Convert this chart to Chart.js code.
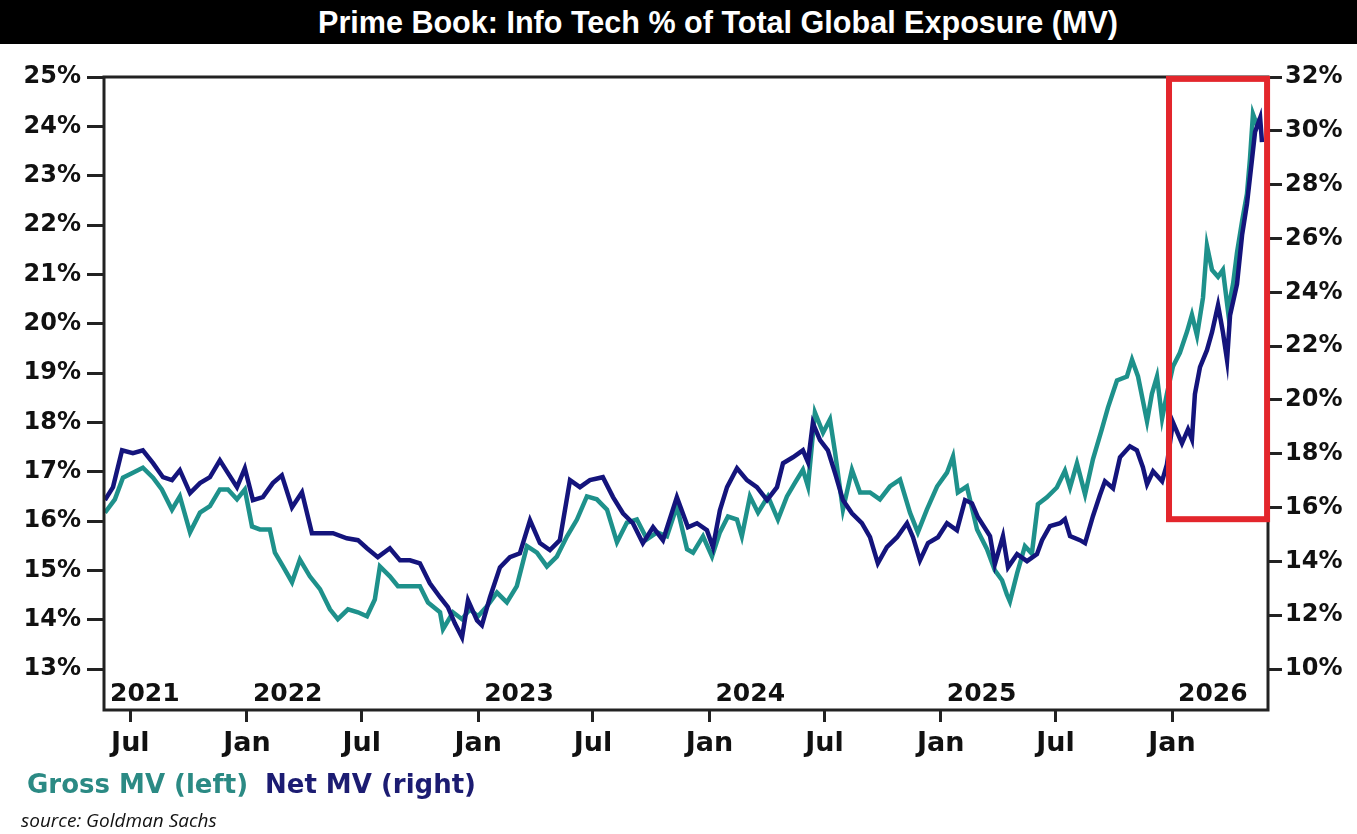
<!DOCTYPE html>
<html>
<head>
<meta charset="utf-8">
<script src="https://cdn.jsdelivr.net/npm/chart.js@4.4.1/dist/chart.umd.min.js"></script>
<style>
  html, body { margin: 0; padding: 0; background: #fff; }
  body { width: 1357px; height: 834px; position: relative; overflow: hidden; }
  #chart { position: absolute; left: 0; top: 0; }
  #title { position: absolute; left: 0; top: 0; width: 1357px; height: 44px; background: #000; z-index: 2; }
  #titleText { position: absolute; left: 318px; top: 6px; font: bold 32px "Liberation Sans", Arial, sans-serif; line-height: 32px; color: #fff; white-space: nowrap; transform-origin: left top; }
  .legend { position: absolute; top: 771px; font: bold 26px "DejaVu Sans", sans-serif; line-height: 26px; white-space: nowrap; }
  #source { position: absolute; left: 21px; top: 811px; font: italic 19px "Open Sans", sans-serif; line-height: 19px; color: #111; white-space: nowrap; }
</style>
</head>
<body>
<div id="title"><span id="titleText">Prime Book: Info Tech % of Total Global Exposure (MV)</span></div>
<canvas id="chart" width="1357" height="834"></canvas>
<span class="legend" style="left:27px;color:#2b8a84">Gross MV (left)</span>
<span class="legend" style="left:265px;color:#1c1c72">Net MV (right)</span>
<div id="source">source: Goldman Sachs</div>
<script>
// squeeze the title into the width it has in the picture
var titleSpan = document.getElementById('titleText');
titleSpan.style.transform = 'scaleX(' + (800 / titleSpan.getBoundingClientRect().width) + ')';

// dates are decimal years
var grossDates = [
  2021.386, 2021.429, 2021.464, 2021.507, 2021.55, 2021.594, 2021.632, 2021.676, 2021.71, 2021.754,
  2021.797, 2021.84, 2021.883, 2021.918, 2021.957, 2021.991, 2022.022, 2022.056, 2022.099, 2022.121,
  2022.156, 2022.195, 2022.229, 2022.272, 2022.316, 2022.359, 2022.393, 2022.437, 2022.48, 2022.519,
  2022.553, 2022.575, 2022.618, 2022.653, 2022.705, 2022.748, 2022.783, 2022.835, 2022.848, 2022.891,
  2022.93, 2022.964, 2022.999, 2023.038, 2023.081, 2023.124, 2023.167, 2023.211, 2023.254, 2023.297,
  2023.34, 2023.384, 2023.427, 2023.47, 2023.513, 2023.557, 2023.6, 2023.643, 2023.686, 2023.73,
  2023.773, 2023.816, 2023.859, 2023.903, 2023.929, 2023.972, 2024.011, 2024.045, 2024.08, 2024.119,
  2024.14, 2024.175, 2024.21, 2024.253, 2024.296, 2024.335, 2024.37, 2024.404, 2024.426, 2024.456,
  2024.491, 2024.521, 2024.543, 2024.577, 2024.616, 2024.651, 2024.694, 2024.737, 2024.78, 2024.824,
  2024.867, 2024.901, 2024.94, 2024.984, 2025.027, 2025.053, 2025.074, 2025.113, 2025.157, 2025.2,
  2025.234, 2025.265, 2025.286, 2025.299, 2025.33, 2025.364, 2025.394, 2025.42, 2025.459, 2025.502,
  2025.537, 2025.559, 2025.589, 2025.624, 2025.658, 2025.697, 2025.723, 2025.762, 2025.805, 2025.827,
  2025.853, 2025.892, 2025.913, 2025.935, 2025.957, 2025.978, 2026.004, 2026.034, 2026.065, 2026.086,
  2026.108, 2026.134, 2026.151, 2026.173, 2026.199, 2026.22, 2026.242, 2026.264, 2026.281, 2026.303,
  2026.324, 2026.337, 2026.35, 2026.367, 2026.381
];
var grossValues = [
  16.17, 16.44, 16.88, 16.98, 17.08, 16.88, 16.64, 16.23, 16.5, 15.77,
  16.17, 16.3, 16.64, 16.64, 16.44, 16.64, 15.89, 15.83, 15.83, 15.36,
  15.08, 14.76, 15.22, 14.88, 14.62, 14.21, 14.01, 14.21, 14.15, 14.07,
  14.41, 15.08, 14.88, 14.68, 14.68, 14.68, 14.35, 14.15, 13.81, 14.15,
  14.01, 14.21, 14.07, 14.27, 14.55, 14.35, 14.68, 15.49, 15.36, 15.08,
  15.28, 15.69, 16.03, 16.5, 16.44, 16.23, 15.57, 15.97, 16.03, 15.63,
  15.77, 15.69, 16.3, 15.43, 15.36, 15.69, 15.28, 15.77, 16.09, 16.03,
  15.69, 16.5, 16.17, 16.5, 16.03, 16.5, 16.78, 17.04, 16.7, 18.2,
  17.79, 18.06, 17.39, 16.23, 17.04, 16.58, 16.58, 16.44, 16.7, 16.84,
  16.17, 15.77, 16.23, 16.7, 16.98, 17.31, 16.58, 16.7, 15.83, 15.43,
  15.0, 14.8, 14.51, 14.37, 14.94, 15.49, 15.34, 16.34, 16.48, 16.68,
  17.02, 16.68, 17.17, 16.54, 17.25, 17.87, 18.3, 18.85, 18.93, 19.27,
  18.93, 18.02, 18.58, 18.93, 18.08, 18.58, 19.13, 19.41, 19.84, 20.18,
  19.76, 20.53, 21.58, 21.09, 20.95, 21.09, 20.26, 20.81, 21.44, 22.08,
  22.63, 23.34, 24.25, 24.03, 24.17
];

var netDates = [
  2021.386, 2021.421, 2021.46, 2021.507, 2021.55, 2021.594, 2021.637, 2021.676, 2021.71, 2021.754,
  2021.797, 2021.84, 2021.883, 2021.918, 2021.957, 2021.991, 2022.026, 2022.069, 2022.112, 2022.151,
  2022.195, 2022.238, 2022.281, 2022.329, 2022.372, 2022.432, 2022.48, 2022.519, 2022.566, 2022.618,
  2022.662, 2022.705, 2022.748, 2022.791, 2022.835, 2022.869, 2022.899, 2022.93, 2022.956, 2022.995,
  2023.016, 2023.051, 2023.094, 2023.137, 2023.18, 2023.224, 2023.267, 2023.31, 2023.353, 2023.397,
  2023.44, 2023.483, 2023.539, 2023.583, 2023.626, 2023.669, 2023.712, 2023.756, 2023.799, 2023.859,
  2023.907, 2023.946, 2023.989, 2024.015, 2024.045, 2024.076, 2024.119, 2024.162, 2024.205, 2024.249,
  2024.292, 2024.318, 2024.361, 2024.404, 2024.426, 2024.447, 2024.478, 2024.512, 2024.543, 2024.577,
  2024.616, 2024.659, 2024.694, 2024.728, 2024.767, 2024.811, 2024.854, 2024.88, 2024.91, 2024.945,
  2024.988, 2025.027, 2025.07, 2025.105, 2025.135, 2025.161, 2025.213, 2025.234, 2025.269, 2025.291,
  2025.33, 2025.373, 2025.416, 2025.438, 2025.472, 2025.516, 2025.537, 2025.559, 2025.602, 2025.624,
  2025.658, 2025.688, 2025.71, 2025.745, 2025.775, 2025.818, 2025.848, 2025.874, 2025.892, 2025.918,
  2025.957, 2025.978, 2026.004, 2026.043, 2026.069, 2026.086, 2026.099, 2026.121, 2026.151, 2026.173,
  2026.199, 2026.22, 2026.238, 2026.251, 2026.281, 2026.303, 2026.324, 2026.346, 2026.359, 2026.381,
  2026.389
];
var netValues = [
  16.28, 16.76, 18.13, 18.02, 18.13, 17.65, 17.13, 17.02, 17.39, 16.54,
  16.91, 17.13, 17.76, 17.28, 16.76, 17.46, 16.28, 16.39, 16.91, 17.2,
  16.01, 16.57, 15.05, 15.05, 15.05, 14.86, 14.79, 14.49, 14.16, 14.49,
  14.04, 14.04, 13.93, 13.19, 12.67, 12.3, 11.7, 11.18, 12.56, 11.81,
  11.63, 12.67, 13.78, 14.16, 14.3, 15.53, 14.68, 14.42, 14.79, 17.02,
  16.76, 17.02, 17.13, 16.39, 15.79, 15.42, 14.68, 15.27, 14.79, 16.39,
  15.27, 15.42, 15.16, 14.53, 15.9, 16.76, 17.46, 17.02, 16.76, 16.28,
  16.76, 17.65, 17.87, 18.13, 17.69, 19.14, 18.51, 18.13, 17.28, 16.28,
  15.79, 15.42, 14.9, 13.93, 14.53, 14.9, 15.42, 14.9, 14.04, 14.68,
  14.9, 15.42, 15.16, 16.28, 16.16, 15.64, 14.94, 13.9, 14.94, 13.78,
  14.27, 14.01, 14.27, 14.79, 15.31, 15.42, 15.57, 14.94, 14.79, 14.68,
  15.68, 16.46, 16.98, 16.72, 17.87, 18.28, 18.13, 17.5, 16.87, 17.35,
  16.98, 17.61, 19.17, 18.39, 18.91, 18.54, 20.22, 21.22, 21.85, 22.52,
  23.52, 22.52, 21.48, 23.15, 24.3, 26.13, 27.28, 28.95, 29.96, 30.48,
  29.58
];

// axis ticks
var xTickValues = [2021.496, 2022, 2022.496, 2023, 2023.496, 2024, 2024.497, 2025, 2025.496, 2026];
var xTickLabels = ['Jul', 'Jan', 'Jul', 'Jan', 'Jul', 'Jan', 'Jul', 'Jan', 'Jul', 'Jan'];
var yearLabels = ['2021', '2022', '2023', '2024', '2025', '2026'];
var yearStarts = [2021, 2022, 2023, 2024, 2025, 2026];
var leftTicks = [13, 14, 15, 16, 17, 18, 19, 20, 21, 22, 23, 24, 25];
var rightTicks = [10, 12, 14, 16, 18, 20, 22, 24, 26, 28, 30, 32];

// red highlight box, in x years and right-axis percent
var redBox = { from: 2025.987, to: 2026.411, top: 31.93, bottom: 15.57 };

function toPoints(dates, values) {
    return dates.map(function (d, i) { return { x: d, y: values[i] }; });
}

var tickFont = { family: 'DejaVu Sans', weight: 'bold', size: 24 };

var extras = {
    id: 'extras',
    afterDatasetsDraw: function (chart) {
        var ctx = chart.ctx, a = chart.chartArea, x = chart.scales.x, yR = chart.scales.yR;
        ctx.save();
        // year labels inside the plot
        ctx.font = 'bold 25px "DejaVu Sans"';
        ctx.fillStyle = '#111';
        ctx.textAlign = 'left';
        ctx.textBaseline = 'alphabetic';
        yearLabels.forEach(function (label, i) {
            var px = Math.max(x.getPixelForValue(yearStarts[i]), a.left) + 6;
            ctx.fillText(label, px, a.bottom - 9);
        });
        // frame
        ctx.strokeStyle = '#222';
        ctx.lineWidth = 3;
        ctx.strokeRect(a.left, a.top, a.right - a.left, a.bottom - a.top);
        // red box
        var x1 = x.getPixelForValue(redBox.from), x2 = x.getPixelForValue(redBox.to);
        var y1 = yR.getPixelForValue(redBox.top), y2 = yR.getPixelForValue(redBox.bottom);
        ctx.strokeStyle = '#e3262c';
        ctx.lineWidth = 6;
        ctx.strokeRect(x1, y1, x2 - x1, y2 - y1);
        ctx.restore();
    }
};

var ctx = document.getElementById('chart').getContext('2d');
var chart = new Chart(ctx, {
    type: 'line',
    data: {
        datasets: [{
            label: 'Gross MV (left)',
            data: toPoints(grossDates, grossValues),
            yAxisID: 'yL',
            borderColor: '#1e918b',
            borderWidth: 4.5,
            pointRadius: 0,
            tension: 0,
            order: 2
        }, {
            label: 'Net MV (right)',
            data: toPoints(netDates, netValues),
            yAxisID: 'yR',
            borderColor: '#14147c',
            borderWidth: 4.5,
            pointRadius: 0,
            tension: 0,
            order: 1
        }]
    },
    options: {
        responsive: false,
        animation: false,
        devicePixelRatio: 1,
        layout: { padding: { top: 77, bottom: 64, left: 0, right: 0 } },
        plugins: { legend: { display: false }, tooltip: { enabled: false } },
        scales: {
            x: {
                type: 'linear',
                position: 'bottom',
                min: 2021.382,
                max: 2026.415,
                border: { display: false },
                grid: { drawOnChartArea: false, tickLength: 12, tickWidth: 3, tickColor: '#222' },
                ticks: {
                    font: { family: 'DejaVu Sans', weight: 'bold', size: 27 },
                    color: '#111',
                    padding: 6,
                    maxRotation: 0,
                    autoSkip: false,
                    callback: function (v, i) { return xTickLabels[i]; }
                },
                afterBuildTicks: function (s) { s.ticks = xTickValues.map(function (v) { return { value: v }; }); },
                afterFit: function (s) { s.height = 60; }
            },
            yL: {
                type: 'linear',
                position: 'left',
                min: 12.17,
                max: 25,
                border: { display: false },
                grid: { drawOnChartArea: false, tickLength: 17, tickWidth: 3, tickColor: '#222' },
                ticks: { font: tickFont, color: '#111', padding: 6, callback: function (v) { return v + '%'; } },
                afterBuildTicks: function (s) { s.ticks = leftTicks.map(function (v) { return { value: v }; }); },
                afterFit: function (s) { s.width = 104; }
            },
            yR: {
                type: 'linear',
                position: 'right',
                min: 8.48,
                max: 32,
                border: { display: false },
                grid: { drawOnChartArea: false, tickLength: 14, tickWidth: 3, tickColor: '#222' },
                ticks: { font: tickFont, color: '#111', padding: 3, callback: function (v) { return v + '%'; } },
                afterBuildTicks: function (s) { s.ticks = rightTicks.map(function (v) { return { value: v }; }); },
                afterFit: function (s) { s.width = 89; }
            }
        }
    },
    plugins: [extras]
});
</script>
</body>
</html>
